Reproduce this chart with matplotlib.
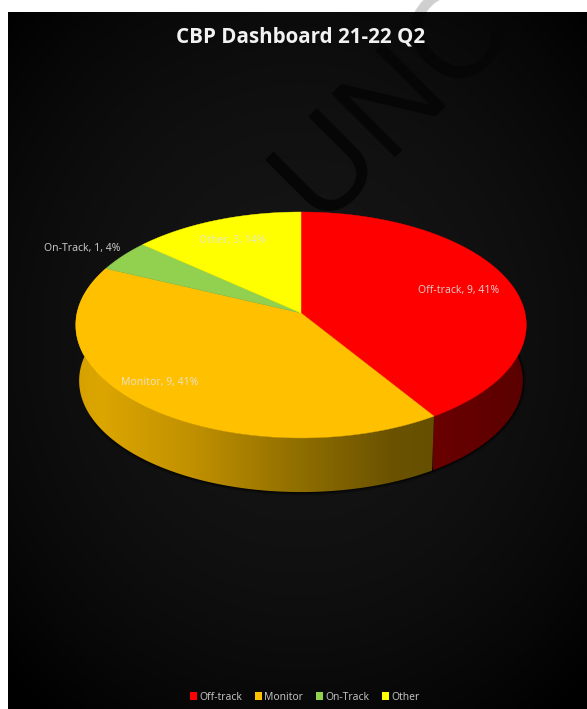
import numpy as np
import matplotlib
matplotlib.use('Agg')
import matplotlib.pyplot as plt
from matplotlib.colors import LinearSegmentedColormap
from matplotlib.patches import Patch, Polygon, Rectangle

categories = ['Off-track', 'Monitor', 'On-Track', 'Other']
values = [9, 9, 1, 3]
percents = [41, 41, 4, 14]
colors = ['#FF0000', '#FFC000', '#92D050', '#FFFF00']
label_xy = [(459, 291), (160, 382), (82, 248), (232, 240)]

# pie geometry in pixels, a perspective look like the excel 3d pie
CX, CY = 301, 313
RX, RY = 224, 111.7
K = 0.106
DEPTH = 56
BOTTOM_SCALE = 0.985


def rim(a0, a1, bottom=False):
    t = np.radians(np.linspace(a0, a1, 200))
    x, y = np.sin(t), np.cos(t)
    w = 1 + K * y
    sx = RX * x / w
    sy = -RY * y / w
    if bottom:
        return np.column_stack([CX + sx * BOTTOM_SCALE, CY + sy * BOTTOM_SCALE + DEPTH])
    return np.column_stack([CX + sx, CY + sy])


fig = plt.figure(figsize=(5.87, 7.09), dpi=100, facecolor='white')
ax = fig.add_axes([0, 0, 1, 1])
ax.set_axis_off()

# dark panel with radial gradient
yy, xx = np.mgrid[12:709:200j, 8:587:200j]
dist2 = ((xx - 300) / 420) ** 2 + ((yy - 340) / 480) ** 2
bg = np.clip(1 - dist2, 0, 1)
bg_cmap = LinearSegmentedColormap.from_list('bg', ['#000000', '#151515'])
ax.imshow(bg, extent=(8, 587, 709, 12), cmap=bg_cmap, vmin=0, vmax=1, aspect='auto', zorder=0)

# watermark, near black on the panel and grey on the white part
wm = dict(fontsize=93, rotation=45, rotation_mode='anchor', ha='left', va='baseline',
          family='Liberation Sans', clip_on=True)
t1 = ax.text(319, 223, 'UNC', color='#060606', zorder=1, **wm)
t1.set_clip_path(Rectangle((8, 12), 579, 697, transform=ax.transData))
t2 = ax.text(319, 223, 'UNC', color='#CFCFCF', zorder=1, **wm)
t2.set_clip_path(Rectangle((0, 0), 587, 12, transform=ax.transData))
t3 = ax.text(517, 15, 'O', color='#CFCFCF', zorder=1, **wm)
t3.set_clip_path(Rectangle((0, 0), 587, 12, transform=ax.transData))

# slice angles, clockwise from 12 o'clock
edges = np.concatenate([[0], np.cumsum(values)]) / sum(values) * 360

# soft shadow round the wall
front = rim(edges[0] + 80, edges[2] - 50, True)
for lw, al in [(5, 0.12), (3, 0.25), (1.5, 0.5)]:
    ax.plot(front[:, 0], front[:, 1], color='black', lw=lw, alpha=al, zorder=2)

# side walls with horizontal gradients
wall_stops = [
    [(0, '#6A0000'), (1, '#5A0000')],
    [(0, '#D6A000'), (0.067, '#DCA600'), (0.327, '#C09000'), (0.606, '#927000'),
     (0.886, '#6A5200'), (1, '#665000')],
]
wall_range = [(433, 527), (76, 434)]
for i in range(2):
    pts = np.vstack([rim(edges[i], edges[i + 1]), rim(edges[i], edges[i + 1], True)[::-1]])
    poly = Polygon(pts, closed=True, facecolor='none', edgecolor='none', zorder=3)
    ax.add_patch(poly)
    cm = LinearSegmentedColormap.from_list('wall%d' % i, wall_stops[i])
    grad = np.linspace(0, 1, 256).reshape(1, -1)
    im = ax.imshow(grad, extent=(wall_range[i][0], wall_range[i][1], 500, 250), cmap=cm,
                   aspect='auto', zorder=3)
    im.set_clip_path(poly)

# top of the pie
for i, c in enumerate(colors):
    pts = np.vstack([[CX, CY], rim(edges[i], edges[i + 1])])
    ax.add_patch(Polygon(pts, closed=True, facecolor=c, edgecolor=c, lw=0.3, zorder=4))

# data labels
for i, name in enumerate(categories):
    ax.text(label_xy[i][0], label_xy[i][1], '%s, %d, %d%%' % (name, values[i], percents[i]),
            color='#E4E4E4', alpha=0.85, fontsize=7.5, family='Noto Sans',
            ha='center', va='center', zorder=5)

ax.text(301, 37, 'CBP Dashboard 21-22 Q2', color='#F2F2F2', fontsize=14.8, fontweight='bold',
        family='Open Sans', ha='center', va='center', zorder=5)

handles = [Patch(facecolor=c, edgecolor='none') for c in colors]
leg = ax.legend(handles, categories, loc='center', bbox_to_anchor=(304.5, 697),
                bbox_transform=ax.transData, ncol=4, frameon=False,
                handlelength=0.7, handleheight=0.7, handletextpad=0.2, columnspacing=1.25,
                borderpad=0, prop={'family': 'Noto Sans', 'size': 7.4})
for t in leg.get_texts():
    t.set_color('#BFBFBF')

ax.set_xlim(0, 587)
ax.set_ylim(709, 0)
fig.savefig('out.png', dpi=100, facecolor='white')
